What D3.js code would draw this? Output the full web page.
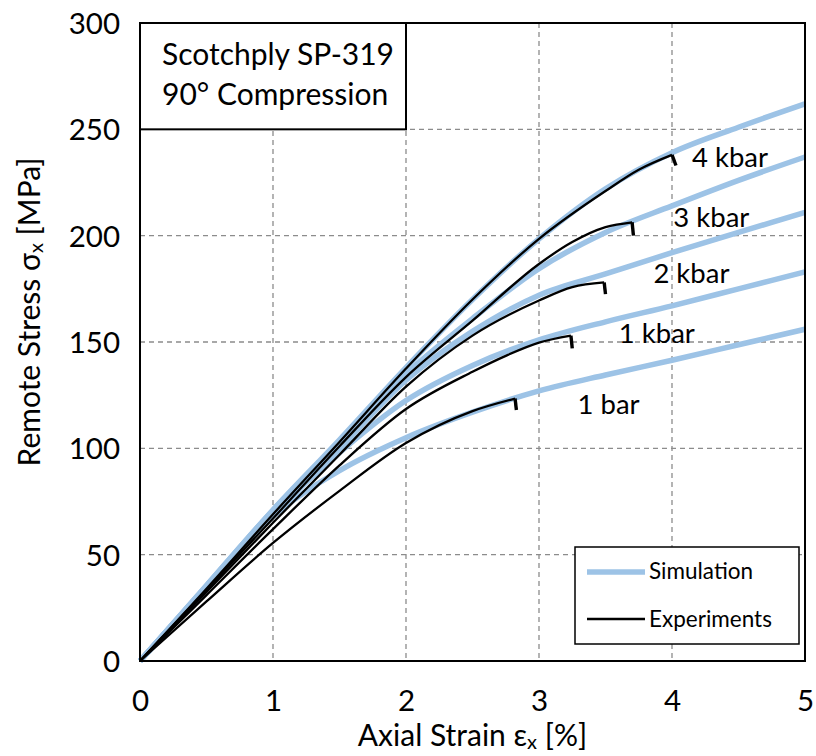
<!DOCTYPE html>
<html>
<head>
<meta charset="utf-8">
<script src="https://cdn.jsdelivr.net/npm/d3@7"></script>
<style>
  html, body { margin: 0; padding: 0; background: #fff; }
  svg { display: block; font-family: Lato, "Open Sans", sans-serif; }
</style>
</head>
<body>
<div class="chart"></div>
<script>
// simulation curves, all sampled on the same strain grid [%] -> stress [MPa]
const simStrain = [0, 0.5, 1, 1.5, 2, 2.5, 3, 3.5, 4, 4.5, 5];
const sim4kbar = [0, 35.5, 71, 104, 138, 170, 198.5, 222, 239, 251, 262];
const sim3kbar = [0, 35.5, 71, 103, 135, 161, 184.5, 201.5, 214, 226, 237];
const sim2kbar = [0, 35, 70, 100, 132, 155, 172, 182, 192, 201.5, 211];
const sim1kbar = [0, 35, 69, 98, 122.5, 139, 151, 159.5, 167, 175, 183];
const sim1bar = [0, 34.5, 68, 89.5, 105, 117, 127, 134.5, 141.4, 148.7, 156];

// experiments (last point of each = the drop at failure)
const exp4kbarStrain = [0, 0.5, 1, 1.5, 2, 2.5, 3, 3.5, 3.75, 4.0, 4.03];
const exp4kbar = [0, 34, 69, 103, 137.5, 170, 198.5, 221, 231, 238, 233];
const exp3kbarStrain = [0, 0.5, 1, 1.5, 2, 2.5, 3, 3.25, 3.5, 3.7, 3.71];
const exp3kbar = [0, 33.5, 67, 101, 133.5, 160, 186.7, 197, 204, 206.3, 200];
const exp2kbarStrain = [0, 0.5, 1, 1.5, 2, 2.5, 3, 3.25, 3.49, 3.5];
const exp2kbar = [0, 32.5, 65, 97, 129, 153, 169.5, 175.8, 178, 172.5];
const exp1kbarStrain = [0, 0.5, 1, 1.5, 2, 2.5, 2.75, 3, 3.24, 3.25];
const exp1kbar = [0, 31, 62, 92, 118.5, 136, 143.5, 149.7, 153, 147];
const exp1barStrain = [0, 0.5, 1, 1.5, 2, 2.5, 2.82, 2.83];
const exp1bar = [0, 28, 55.5, 80, 102.5, 117.5, 123.4, 118];

const curveNames = ["4 kbar", "3 kbar", "2 kbar", "1 kbar", "1 bar"];
const xTicks = [0, 1, 2, 3, 4, 5];
const yTicks = [0, 50, 100, 150, 200, 250, 300];
const titleLines = ["Scotchply SP-319", "90\u00b0 Compression"];
const legendNames = ["Simulation", "Experiments"];

const draw = () => {
    const W = 816, H = 756;
    const margin = {top: 23, right: 11, bottom: 95, left: 140};
    const width = W - margin.left - margin.right;
    const height = H - margin.top - margin.bottom;
    const blue = "#9dc3e6";

    const svg = d3.select('.chart').append('svg')
        .attr('width', W)
        .attr('height', H);
    const g = svg.append('g')
        .attr('transform', 'translate(' + margin.left + ',' + margin.top + ')');

    const x = d3.scaleLinear().domain([0, 5]).range([0, width]);
    const y = d3.scaleLinear().domain([0, 300]).range([height, 0]);

    // dashed grid
    g.append('g').selectAll('line.vx')
        .data(xTicks.slice(1, -1))
        .enter().append('line')
        .attr('x1', d => x(d)).attr('x2', d => x(d))
        .attr('y1', 0).attr('y2', height)
        .attr('stroke', '#8c8c8c').attr('stroke-width', 1.3)
        .attr('stroke-dasharray', '5,4');
    g.append('g').selectAll('line.hy')
        .data(yTicks.slice(1, -1))
        .enter().append('line')
        .attr('x1', 0).attr('x2', width)
        .attr('y1', d => y(d)).attr('y2', d => y(d))
        .attr('stroke', '#8c8c8c').attr('stroke-width', 1.3)
        .attr('stroke-dasharray', '5,4');

    // axes (labels only, no tick marks)
    const xAxis = g.append('g')
        .attr('transform', 'translate(0,' + height + ')')
        .call(d3.axisBottom(x).tickValues(xTicks).tickSize(0).tickPadding(29).tickFormat(d3.format('d')));
    const yAxis = g.append('g')
        .call(d3.axisLeft(y).tickValues(yTicks).tickSize(0).tickPadding(20));
    [xAxis, yAxis].forEach(a => {
        a.select('.domain').remove();
        a.selectAll('text')
            .attr('font-family', 'Lato, "Open Sans", sans-serif')
            .attr('font-size', 29.5)
            .attr('fill', '#000');
    });
    yAxis.selectAll('text').attr('dy', '0.36em');

    // simulation curves
    const sims = [sim4kbar, sim3kbar, sim2kbar, sim1kbar, sim1bar];
    const line = d3.line()
        .x(d => x(d[0]))
        .y(d => y(d[1]))
        .curve(d3.curveMonotoneX);
    g.append('g').selectAll('path')
        .data(sims.map(s => simStrain.map((e, i) => [e, s[i]])))
        .enter().append('path')
        .attr('d', line)
        .attr('fill', 'none')
        .attr('stroke', blue)
        .attr('stroke-width', 5.5)
        .attr('stroke-linecap', 'butt');

    // experimental curves: smooth part + failure drop
    const exps = [
        [exp4kbarStrain, exp4kbar],
        [exp3kbarStrain, exp3kbar],
        [exp2kbarStrain, exp2kbar],
        [exp1kbarStrain, exp1kbar],
        [exp1barStrain, exp1bar]
    ].map(([e, s]) => e.map((v, i) => [v, s[i]]));
    const straight = d3.line().x(d => x(d[0])).y(d => y(d[1]));
    const expG = g.append('g');
    expG.selectAll('path.body')
        .data(exps)
        .enter().append('path')
        .attr('d', d => line(d.slice(0, -1)))
        .attr('fill', 'none')
        .attr('stroke', '#000')
        .attr('stroke-width', 2.3);
    expG.selectAll('path.drop')
        .data(exps)
        .enter().append('path')
        .attr('d', d => straight(d.slice(-2)))
        .attr('fill', 'none')
        .attr('stroke', '#000')
        .attr('stroke-width', 3.4);

    // curve labels, anchored in data units
    const labelAt = [[4.15, 232.3], [4.01, 204.2], [3.86, 177.7], [3.6, 149.5], [3.29, 116.1]];
    g.append('g').selectAll('text')
        .data(curveNames)
        .enter().append('text')
        .attr('x', (d, i) => x(labelAt[i][0]))
        .attr('y', (d, i) => y(labelAt[i][1]))
        .attr('font-size', 27.5)
        .attr('fill', '#000')
        .text(d => d);

    // plot frame
    g.append('rect')
        .attr('width', width).attr('height', height)
        .attr('fill', 'none')
        .attr('stroke', '#000').attr('stroke-width', 2);

    // title box, top left corner of the plot
    const tb = g.append('g');
    tb.append('rect')
        .attr('x', x(0)).attr('y', y(300))
        .attr('width', x(2) - x(0)).attr('height', y(250) - y(300))
        .attr('fill', '#fff')
        .attr('stroke', '#000').attr('stroke-width', 2);
    tb.selectAll('text')
        .data(titleLines)
        .enter().append('text')
        .attr('x', 22)
        .attr('y', (d, i) => 42 + i * 40)
        .attr('font-size', 30)
        .attr('fill', '#000')
        .text(d => d);

    // legend
    const lg = g.append('g').attr('transform', 'translate(' + (575 - margin.left) + ',' + (547 - margin.top) + ')');
    lg.append('rect')
        .attr('width', 224).attr('height', 97)
        .attr('fill', '#fff')
        .attr('stroke', '#000').attr('stroke-width', 1.5);
    const lstyle = [{c: blue, w: 5.5}, {c: '#000', w: 2.3}];
    lg.selectAll('line')
        .data(legendNames)
        .enter().append('line')
        .attr('x1', 12).attr('x2', 70)
        .attr('y1', (d, i) => 25 + i * 47)
        .attr('y2', (d, i) => 25 + i * 47)
        .attr('stroke', (d, i) => lstyle[i].c)
        .attr('stroke-width', (d, i) => lstyle[i].w);
    lg.selectAll('text')
        .data(legendNames)
        .enter().append('text')
        .attr('x', 74)
        .attr('y', (d, i) => 32 + i * 48)
        .attr('font-size', 22.5)
        .attr('fill', '#000')
        .text(d => d);

    // axis titles
    const xt = svg.append('text')
        .attr('x', margin.left + x(2.5))
        .attr('y', 746)
        .attr('text-anchor', 'middle')
        .attr('font-size', 30)
        .attr('fill', '#000');
    xt.append('tspan').text('Axial Strain \u03b5');
    xt.append('tspan').attr('font-size', 20).attr('dy', 3).text('x');
    xt.append('tspan').attr('dy', -3).text(' [%]');

    const yt = svg.append('text')
        .attr('transform', 'translate(40,' + 312 + ') rotate(-90)')
        .attr('text-anchor', 'middle')
        .attr('font-size', 30)
        .attr('fill', '#000');
    yt.append('tspan').text('Remote Stress \u03c3');
    yt.append('tspan').attr('font-size', 20).attr('dy', 3).text('x');
    yt.append('tspan').attr('dy', -3).text(' [MPa]');
};

draw();
</script>
</body>
</html>
